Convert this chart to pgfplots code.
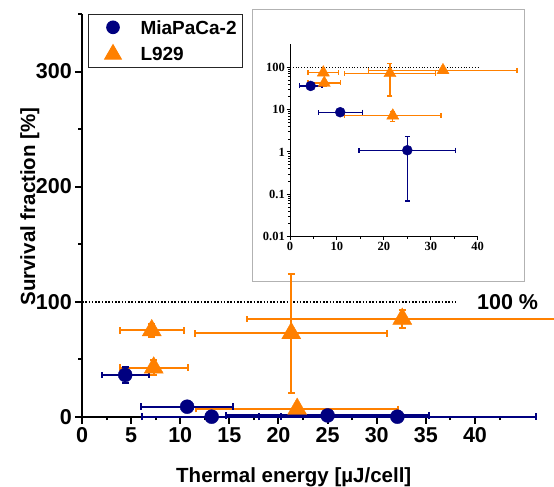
\documentclass[border=0pt]{standalone}
\usepackage{fontspec}
\setmainfont{Liberation Sans}
\newfontfamily\insetfont{Liberation Serif}
\usepackage{pgfplots}
\pgfplotsset{compat=1.18}
\definecolor{navyb}{RGB}{0,0,128}
\definecolor{orng}{RGB}{255,128,0}
\pgfplotsset{/pgf/number format/assume math mode=true}

\begin{document}
\begin{tikzpicture}
\path[use as bounding box] (-82bp,-70.3bp) rectangle (472bp,416.7bp);
% inset frame
\draw[black!30, line width=1bp] (170.7bp,134.7bp) rectangle (442bp,406.7bp);

% inset: log scale
\begin{axis}[
    at={(208bp,180bp)}, anchor=south west,
    scale only axis, width=187.7bp, height=192.7bp,
    xmin=0, xmax=40, ymode=log, ymin=0.01, ymax=355,
    clip=false,
    axis x line*=bottom, axis y line*=left,
    axis line style={line width=1bp, -},
    tick align=outside,
    xtick={0,10,20,30,40}, minor xtick={5,15,25,35},
    ytick={0.01,0.1,1,10,100}, yticklabels={0.01,0.1,1,10,100},
    tick style={line width=1bp, black},
    major tick length=3.5bp, minor tick length=2bp,
    tick label style={font=\insetfont\bfseries\fontsize{12.5bp}{14bp}\selectfont},
    yticklabel style={inner xsep=1.5bp},
    xticklabel style={inner ysep=1.5bp},
]
\addplot[black, line width=0.8bp, dash pattern=on 0.8bp off 2bp] coordinates {(0,100) (40,100)};
% L929
\addplot[only marks, mark=triangle*, mark size=7bp, color=orng,
    error bars/.cd, x dir=both, x explicit, y dir=both, y explicit,
    error bar style={line width=1.3bp}, error mark options={rotate=90, line width=1.3bp, mark size=2.5bp}]
coordinates {
    (7.1,75) +- (3.25,6)
    (7.3,42.6) +- (3.45,6.5)
    (21.3,72.5) +- (9.75,51.5)
    (32.6,85) +- (15.8,8)
    (21.9,7.2) +- (10.3,2)
};
% MiaPaCa-2
\addplot[only marks, mark=*, mark size=5bp, color=navyb,
    error bars/.cd, x dir=both, x explicit, y dir=both, y explicit,
    error bar style={line width=1.3bp}, error mark options={rotate=90, line width=1.3bp, mark size=2.5bp}]
coordinates {
    (4.4,36.3) +- (2.4,6.8)
    (10.7,8.7) +- (4.7,1)
    (25.0,1.1) += (10.3,1.2) -= (10.3,1.03)
};
\end{axis}

% main axis
\begin{axis}[
    at={(0,0)}, anchor=south west,
    scale only axis, width=442.1bp, height=402.7bp,
    xmin=0, xmax=45, ymin=0, ymax=350,
    clip=false,
    axis x line*=bottom, axis y line*=left,
    axis line style={line width=2bp, -},
    tick align=outside,
    xtick={0,5,...,40}, minor xtick={2.5,7.5,...,42.5},
    ytick={0,100,200,300}, minor ytick={50,150,250,350},
    tick style={line width=2bp, black},
    major tick length=7bp, minor tick length=3.5bp,
    tick label style={font=\bfseries\fontsize{21.5bp}{24bp}\selectfont},
    yticklabel style={inner xsep=3bp},
    xlabel={Thermal energy [µJ/cell]},
    ylabel={Survival fraction [\%]},
    every axis x label/.style={at={(axis description cs:0.479,0)}, anchor=base, yshift=-65.3bp,
        font=\bfseries\fontsize{20.5bp}{24bp}\selectfont},
    every axis y label/.style={at={(axis description cs:-0.1063,0.522)}, anchor=base, rotate=90,
        font=\bfseries\fontsize{20.5bp}{24bp}\selectfont},
    legend style={at={(axis description cs:0.0136,1.0)}, anchor=north west,
        draw=black!85, line width=1bp, inner xsep=5bp, inner ysep=1.5bp,
        font=\bfseries\fontsize{19bp}{22bp}\selectfont,
        nodes={inner sep=1bp}, row sep=4.4bp, column sep=12bp, cells={anchor=west}},
    legend image code/.code={\path (-5bp,-10bp) (28bp,11.6bp); \draw[#1] plot coordinates {(14bp,0.8bp)};},
]
\addplot[black, line width=2bp, dash pattern=on 1.6bp off 1.7bp, forget plot] coordinates {(0,100) (38,100)};
\node[anchor=west, inner sep=0bp, font=\bfseries\fontsize{21.5bp}{24bp}\selectfont] at (axis cs:40.2,100) {100 \%};
% L929
\addplot[only marks, mark=triangle*, mark size=11bp, color=orng, forget plot,
    error bars/.cd, x dir=both, x explicit, y dir=both, y explicit,
    error bar style={line width=2bp}, error mark options={rotate=90, line width=2bp, mark size=3.3bp}]
coordinates {
    (7.1,75) +- (3.25,6)
    (7.3,42.6) +- (3.45,6.5)
    (21.3,72.5) +- (9.75,51.5)
    (32.6,85) +- (15.8,8)
    (21.9,6.7) +- (10.3,2)
};
% MiaPaCa-2
\addplot[only marks, mark=*, mark size=7bp, color=navyb, forget plot,
    error bars/.cd, x dir=both, x explicit, y dir=both, y explicit,
    error bar style={line width=2bp}, error mark options={rotate=90, line width=2bp, mark size=3.3bp}]
coordinates {
    (4.4,36.3) +- (2.4,6.8)
    (10.7,8.7) +- (4.7,1)
    (13.2,0) +- (7.1,0)
    (25.0,1.1) +- (10.3,1.1)
    (32.1,0) +- (14.1,0)
};
\addlegendimage{only marks, mark=*, mark size=6.3bp, color=navyb}
\addlegendentry{MiaPaCa-2}
\addlegendimage{only marks, mark=triangle*, mark size=9.6bp, color=orng}
\addlegendentry{L929}
\end{axis}
\end{tikzpicture}
\end{document}
